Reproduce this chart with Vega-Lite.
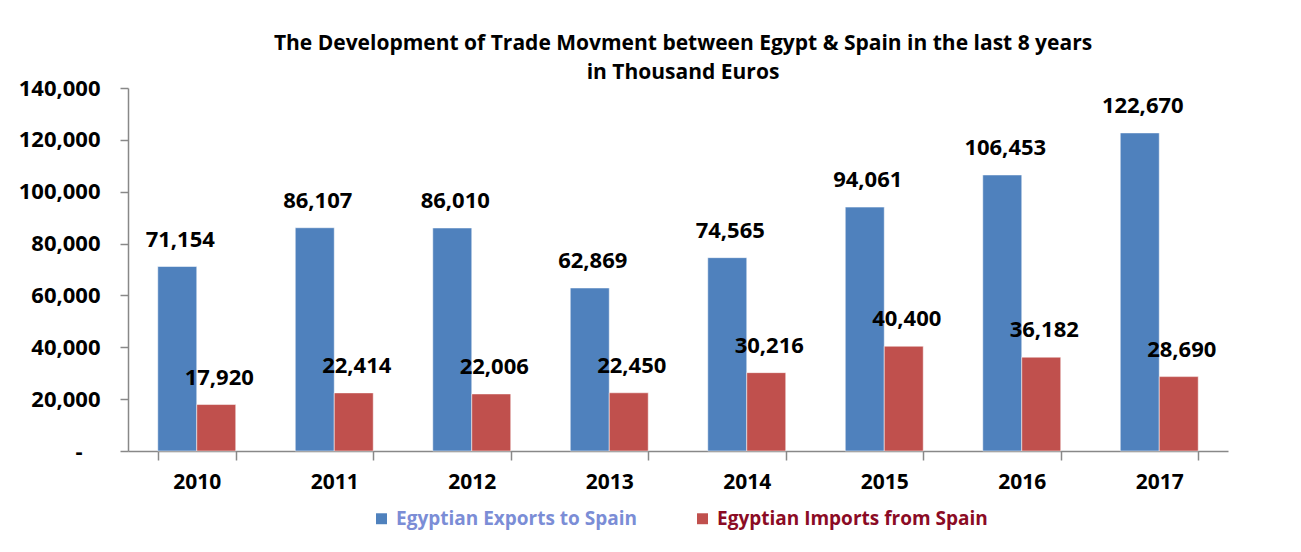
{
  "$schema": "https://vega.github.io/schema/vega-lite/v6.json",
  "width": 1100,
  "height": 363,
  "autosize": "none",
  "padding": {"left": 128, "top": 88, "right": 73, "bottom": 101},
  "background": "#ffffff",
  "title": {
    "text": ["The Development of Trade Movment between Egypt & Spain in the last 8 years", "in Thousand Euros"],
    "font": "Open Sans",
    "fontSize": 21,
    "fontWeight": "bold",
    "color": "#000000",
    "anchor": "middle",
    "lineHeight": 29,
    "offset": -6,
    "dx": 5
  },
  "data": {
    "values": [
      {"year": "2010", "series": "Egyptian Exports to Spain", "value": 71154},
      {"year": "2011", "series": "Egyptian Exports to Spain", "value": 86107},
      {"year": "2012", "series": "Egyptian Exports to Spain", "value": 86010},
      {"year": "2013", "series": "Egyptian Exports to Spain", "value": 62869},
      {"year": "2014", "series": "Egyptian Exports to Spain", "value": 74565},
      {"year": "2015", "series": "Egyptian Exports to Spain", "value": 94061},
      {"year": "2016", "series": "Egyptian Exports to Spain", "value": 106453},
      {"year": "2017", "series": "Egyptian Exports to Spain", "value": 122670},
      {"year": "2010", "series": "Egyptian Imports from Spain", "value": 17920},
      {"year": "2011", "series": "Egyptian Imports from Spain", "value": 22414},
      {"year": "2012", "series": "Egyptian Imports from Spain", "value": 22006},
      {"year": "2013", "series": "Egyptian Imports from Spain", "value": 22450},
      {"year": "2014", "series": "Egyptian Imports from Spain", "value": 30216},
      {"year": "2015", "series": "Egyptian Imports from Spain", "value": 40400},
      {"year": "2016", "series": "Egyptian Imports from Spain", "value": 36182},
      {"year": "2017", "series": "Egyptian Imports from Spain", "value": 28690}
    ]
  },
  "encoding": {
    "x": {
      "field": "year",
      "type": "nominal",
      "title": null,
      "scale": {"paddingInner": 0.433, "paddingOuter": 0.2165},
      "axis": {
        "labelAngle": 0,
        "labelFont": "Open Sans",
        "labelFontSize": 21,
        "labelFontWeight": "bold",
        "labelColor": "#000000",
        "domainColor": "#888888",
        "tickColor": "#888888",
        "tickBand": "extent",
        "tickSize": 9,
        "labelPadding": 11,
        "domainWidth": 1.5,
        "tickWidth": 1.5
      }
    },
    "xOffset": {"field": "series", "type": "nominal", "scale": {"paddingInner": 0, "paddingOuter": 0}},
    "y": {
      "field": "value",
      "type": "quantitative",
      "title": null,
      "scale": {"domain": [0, 140000], "nice": false},
      "axis": {
        "values": [0, 20000, 40000, 60000, 80000, 100000, 120000, 140000],
        "labelExpr": "datum.value == 0 ? '-' : format(datum.value, ',')",
        "labelFont": "Open Sans",
        "labelFontSize": 22,
        "labelFontWeight": "bold",
        "labelColor": "#000000",
        "grid": false,
        "domainColor": "#888888",
        "tickColor": "#888888",
        "tickSize": 8,
        "labelPadding": {"condition": {"test": "datum.value == 0", "value": 38}, "value": 20},
        "domainWidth": 1.5,
        "tickWidth": 1.5
      }
    }
  },
  "layer": [
    {
      "mark": {"type": "bar", "stroke": "#ffffff", "strokeOpacity": 0.5, "strokeWidth": 1},
      "encoding": {
        "color": {
          "field": "series",
          "type": "nominal",
          "title": null,
          "scale": {"domain": ["Egyptian Exports to Spain", "Egyptian Imports from Spain"], "range": ["#4F81BD", "#C0504D"]},
          "legend": {
            "orient": "none",
            "direction": "horizontal",
            "legendX": 244,
            "legendY": 421,
            "symbolType": "square",
            "symbolSize": 120,
            "symbolStrokeWidth": 0,
            "labelFont": "Open Sans",
            "labelFontSize": 19,
            "labelFontWeight": "bold",
            "labelLimit": 400,
            "labelOffset": 5,
            "columnPadding": 55,
            "labelColor": {"expr": "datum.label == 'Egyptian Exports to Spain' ? '#7b8dd6' : '#8b0b25'"}
          }
        }
      }
    },
    {
      "mark": {"type": "text", "baseline": "bottom", "dy": -15, "dx": 3, "font": "Open Sans", "fontSize": 22, "fontWeight": "bold", "color": "#000000"},
      "encoding": {
        "text": {"field": "value", "type": "quantitative", "format": ","}
      }
    }
  ],
  "config": {
    "view": {"stroke": null}
  }
}
